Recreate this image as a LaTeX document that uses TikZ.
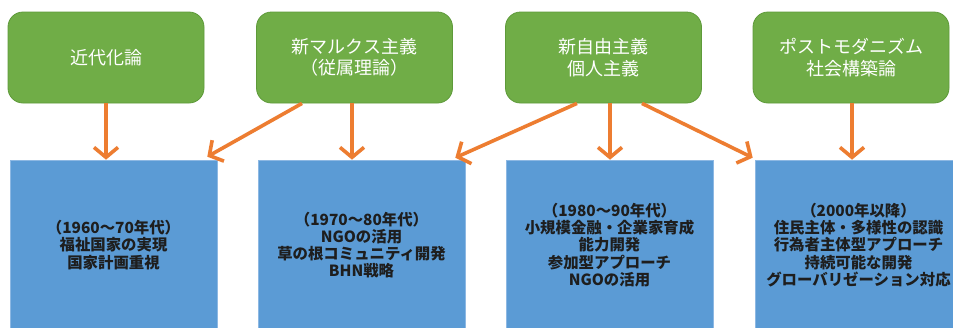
\documentclass[tikz,border=0pt]{standalone}
\usepackage{fontspec}
\newfontfamily\jp{Noto Sans CJK JP}
\usetikzlibrary{arrows.meta,calc}
\definecolor{gfill}{HTML}{70AD47}
\definecolor{gline}{HTML}{5E9A3A}
\definecolor{bfill}{HTML}{5B9BD5}
\definecolor{bline}{HTML}{8DB8E3}
\definecolor{orng}{HTML}{ED7D31}
\definecolor{btext}{HTML}{1E1E1E}
\tikzset{
  theory/.style={draw=gline, line width=0.8pt, fill=gfill, rounded corners=15pt,
    minimum width=196pt, minimum height=91pt, inner sep=0pt, align=center,
    text=white, font=\jp\fontsize{18}{21.5}\selectfont},
  era/.style={draw=bline, line width=0.6pt, fill=bfill,
    minimum width=207pt, minimum height=170pt, inner sep=0pt, align=center,
    text=btext, font=\jp\bfseries\fontsize{15.4}{17.2}\selectfont},
  arr/.style={draw=orng, line width=3.6pt,
    -{Straight Barb[length=10pt,width=24pt,line width=3.6pt]}}
}
\begin{document}
\begin{tikzpicture}[x=1pt,y=-1pt]
\useasboundingbox (0,0) rectangle (953,327);
\clip (0,0) rectangle (953,327);
\fill[white] (0,0) rectangle (953,327);
% theory boxes
\node[theory] (g1) at (106,57.5) {近代化論};
\node[theory] (g2) at (354.5,57.5) {新マルクス主義\\（従属理論）};
\node[theory] (g3) at (603.5,57.5) {新自由主義\\個人主義};
\node[theory] (g4) at (851,57.5) {ポストモダニズム\\社会構築論};
% era boxes
\node[era] (b1) at (113.5,245) {（1960～70年代）\\福祉国家の実現\\国家計画重視};
\node[era] (b2) at (361.5,245) {（1970～80年代）\\NGOの活用\\草の根コミュニティ開発\\BHN戦略};
\node[era] (b3) at (609.5,245) {（1980～90年代）\\小規模金融・企業家育成\\能力開発\\参加型アプローチ\\NGOの活用};
\node[era] (b4) at (858.5,245) {（2000年以降）\\住民主体・多様性の認識\\行為者主体型アプローチ\\持続可能な開発\\グローバリゼーション対応};
% arrows
\draw[arr] (g1.south) -- (g1.south |- b1.north);
\draw[arr] ($(g2.south)+(-2.5,0)$) -- ($(g2.south |- b2.north)+(-2.5,0)$);
\draw[arr] ($(g2.south)+(-52.5,0)$) -- ($(b1.north east)+(-10,-3)$);
\draw[arr] ($(g3.south)+(6.5,0)$) -- ($(g3.south |- b3.north)+(6.5,0)$);
\draw[arr] ($(g3.south)+(-26.5,0)$) -- ($(b2.north east)+(-10,-2)$);
\draw[arr] ($(g3.south)+(38.5,0)$) -- ($(b4.north west)+(-2,-2)$);
\draw[arr] ($(g4.south)+(1,0)$) -- ($(g4.south |- b4.north)+(1,0)$);
\end{tikzpicture}
\end{document}
